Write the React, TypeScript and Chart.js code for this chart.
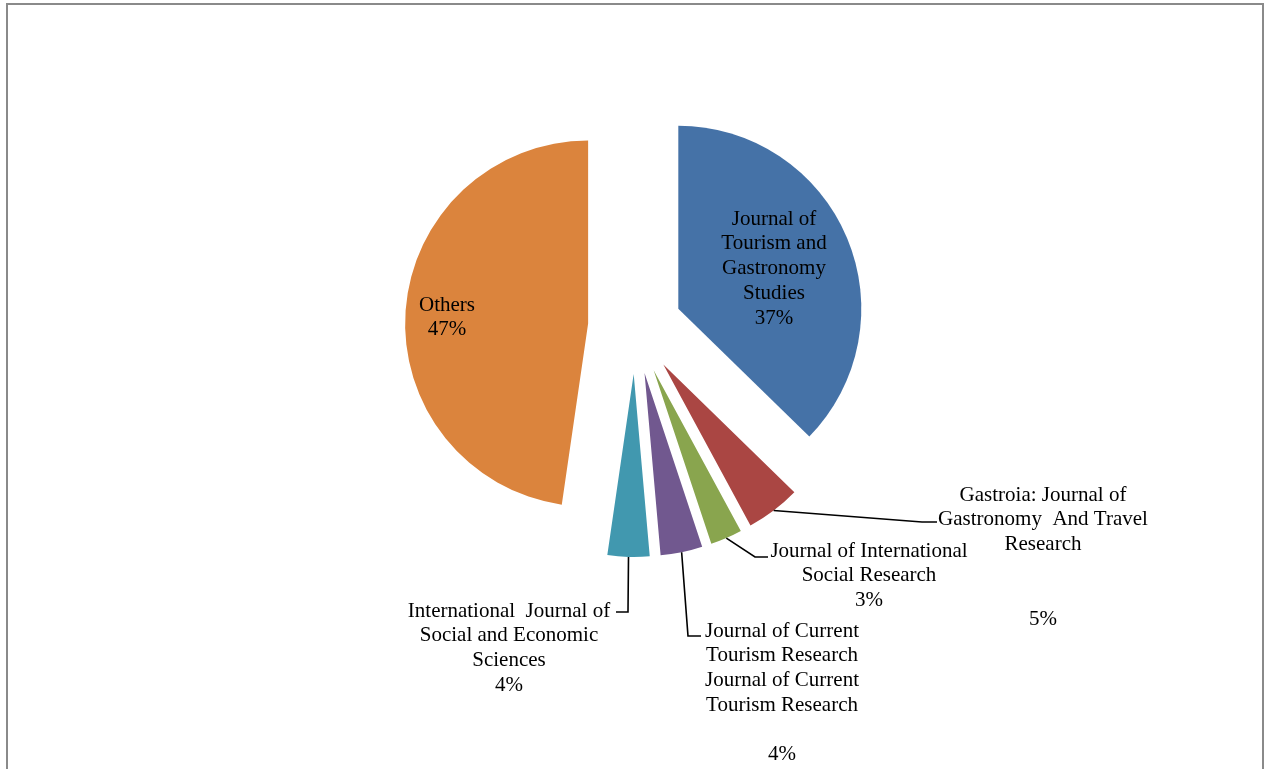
import React, { useEffect, useRef } from "react";
import { Chart, registerables } from "chart.js";

Chart.register(...registerables);

const categories = [
  "Journal of Tourism and Gastronomy Studies",
  "Gastroia: Journal of Gastronomy And Travel Research",
  "Journal of International Social Research",
  "Journal of Current Tourism Research",
  "International Journal of Social and Economic Sciences",
  "Others",
];
// slice sizes
const shares = [37.3, 4.8, 2.8, 3.7, 3.7, 47.7];
// percentage labels as printed on the picture
const percentLabels = ["37%", "5%", "3%", "4%", "4%", "47%"];
const colors = ["#4572A7", "#AA4643", "#89A54E", "#71588F", "#4198AF", "#DB843D"];

const nameLines = [
  ["Journal of", "Tourism and", "Gastronomy", "Studies"],
  ["Gastroia: Journal of", "Gastronomy  And Travel", "Research"],
  ["Journal of International", "Social Research"],
  ["Journal of Current", "Tourism Research", "Journal of Current", "Tourism Research"],
  ["International  Journal of", "Social and Economic", "Sciences"],
  ["Others"],
];

type LabelLayout = {
  cx: number;
  y0: number;
  pctY?: number;
  leader?: number[][];
};

const labelLayout: LabelLayout[] = [
  { cx: 774, y0: 219 },
  { cx: 1043, y0: 495, pctY: 619, leader: [[922, 522], [937, 522]] },
  { cx: 869, y0: 551, leader: [[755, 557], [768, 557]] },
  { cx: 782, y0: 631, pctY: 754, leader: [[688, 636], [701, 636]] },
  { cx: 509, y0: 611, leader: [[628, 612], [616, 612]] },
  { cx: 447, y0: 305 },
];

const EXPLODE = 47;
const LINE_H = 24.8;
const FONT = '21px "Liberation Serif", "Times New Roman", serif';

const explodePlugin = {
  id: "explode",
  afterDatasetUpdate(chart: any, args: any) {
    const meta = args.meta;
    meta.data.forEach((arc: any) => {
      const mid = (arc.startAngle + arc.endAngle) / 2;
      arc.x = arc.x + Math.cos(mid) * EXPLODE;
      arc.y = arc.y + Math.sin(mid) * EXPLODE;
    });
  },
};

const framePlugin = {
  id: "frame",
  beforeDraw(chart: any) {
    const ctx = chart.ctx;
    ctx.save();
    ctx.strokeStyle = "#8a8a8a";
    ctx.lineWidth = 2;
    ctx.beginPath();
    ctx.moveTo(7, 800);
    ctx.lineTo(7, 4);
    ctx.lineTo(1263, 4);
    ctx.lineTo(1263, 800);
    ctx.stroke();
    ctx.restore();
  },
};

const labelPlugin = {
  id: "sliceLabels",
  afterDatasetsDraw(chart: any) {
    const ctx = chart.ctx;
    const meta = chart.getDatasetMeta(0);
    ctx.save();
    ctx.font = FONT;
    ctx.fillStyle = "#000";
    ctx.textAlign = "center";
    ctx.textBaseline = "middle";
    meta.data.forEach((arc: any, i: number) => {
      const lay = labelLayout[i];
      const lines = nameLines[i];
      lines.forEach((t, k) => ctx.fillText(t, lay.cx, lay.y0 + k * LINE_H));
      const py = lay.pctY !== undefined ? lay.pctY : lay.y0 + lines.length * LINE_H;
      ctx.fillText(percentLabels[i], lay.cx, py);
      if (lay.leader) {
        const mid = (arc.startAngle + arc.endAngle) / 2;
        const ax = arc.x + Math.cos(mid) * arc.outerRadius;
        const ay = arc.y + Math.sin(mid) * arc.outerRadius;
        ctx.strokeStyle = "#000";
        ctx.lineWidth = 1.6;
        ctx.beginPath();
        ctx.moveTo(ax, ay);
        lay.leader.forEach((p) => ctx.lineTo(p[0], p[1]));
        ctx.stroke();
      }
    });
    ctx.restore();
  },
};

export default function App() {
  const ref = useRef<HTMLCanvasElement | null>(null);
  useEffect(() => {
    if (!ref.current) return;
    const chart = new Chart(ref.current, {
      type: "pie",
      data: {
        labels: categories,
        datasets: [
          {
            data: shares,
            backgroundColor: colors,
            borderWidth: 0,
          },
        ],
      },
      options: {
        animation: false,
        responsive: false,
        events: [],
        radius: 183,
        layout: { padding: { left: 6, right: 0, top: 0, bottom: 115 } },
        plugins: {
          legend: { display: false },
          tooltip: { enabled: false },
        },
      } as any,
      plugins: [framePlugin, explodePlugin, labelPlugin],
    });
    return () => chart.destroy();
  }, []);
  return (
    <div style={{ position: "absolute", left: 0, top: 0, width: 1264, height: 769, background: "#fff" }}>
      <canvas ref={ref} width={1264} height={769} style={{ width: 1264, height: 769 }} />
    </div>
  );
}
